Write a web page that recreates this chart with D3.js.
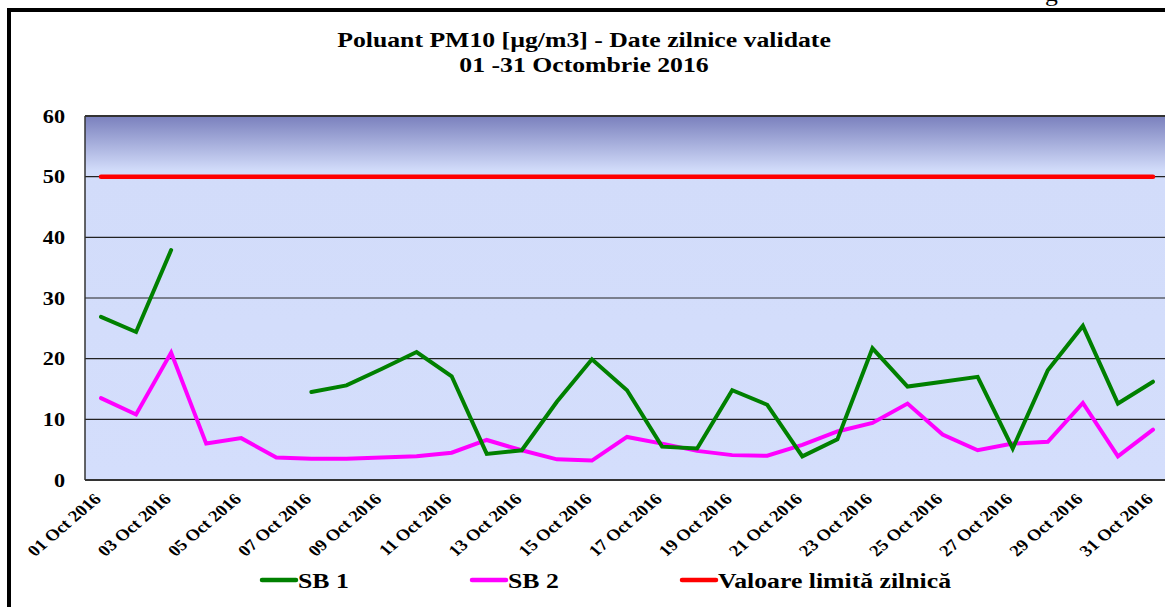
<!DOCTYPE html>
<html>
<head>
<meta charset="utf-8">
<script src="https://cdn.jsdelivr.net/npm/d3@7"></script>
<style>
  html, body { margin: 0; padding: 0; background: #fff; }
  svg { display: block; }
  text { font-family: "Liberation Serif", "Times New Roman", serif; font-weight: bold; fill: #000; }
</style>
</head>
<body>
<div id="container"></div>
<script>
// data
var days = ["01", "02", "03", "04", "05", "06", "07", "08", "09", "10",
            "11", "12", "13", "14", "15", "16", "17", "18", "19", "20",
            "21", "22", "23", "24", "25", "26", "27", "28", "29", "30", "31"];

var sb1 = [26.9, 24.4, 37.9, null, null, null, 14.5, 15.6, 18.3, 21.1,
           17.1, 4.3, 4.9, 12.9, 19.9, 14.8, 5.5, 5.2, 14.8, 12.4,
           3.9, 6.7, 21.7, 15.4, 16.2, 17.0, 5.2, 18.1, 25.4, 12.6, 16.2];

var sb2 = [13.5, 10.8, 21.0, 6.0, 6.9, 3.7, 3.5, 3.5, 3.7, 3.9,
           4.5, 6.6, 4.9, 3.4, 3.2, 7.1, 6.0, 4.8, 4.1, 4.0,
           5.8, 8.0, 9.4, 12.6, 7.5, 4.9, 6.0, 6.3, 12.7, 3.9, 8.3];

var limit = days.map(function() { return 50; });

var yTicks = [0, 10, 20, 30, 40, 50, 60];
var titleLines = ["Poluant PM10 [µg/m3] - Date zilnice validate", "01 -31 Octombrie 2016"];
var legendItems = [
  { name: "SB 1", color: "#008000" },
  { name: "SB 2", color: "#ff00ff" },
  { name: "Valoare limită zilnică", color: "#ff0000" }
];

var w = 1165,
    h = 607;

// the picture looks stretched sideways, so text is widened a bit
var sx = 1.17;

var svg = d3.select("div#container")
  .append("svg")
  .attr("width", w)
  .attr("height", h);

var x = d3.scalePoint()
  .domain(days)
  .range([101, 1153]);

var step = x.step();

var y = d3.scaleLinear()
  .domain([0, 60])
  .range([480, 116]);

// plot background gradient
var defs = svg.append("defs");
var grad = defs.append("linearGradient")
  .attr("id", "bg")
  .attr("x1", 0).attr("y1", 0)
  .attr("x2", 0).attr("y2", 1);
grad.append("stop").attr("offset", "0%").attr("stop-color", "#7a80bd");
grad.append("stop").attr("offset", "15%").attr("stop-color", "#d2dcfa");
grad.append("stop").attr("offset", "100%").attr("stop-color", "#d4defc");

var plotLeft = 85;
var plotRight = x(days[days.length - 1]) + step / 2;

svg.append("rect")
  .attr("x", plotLeft)
  .attr("y", y(60))
  .attr("width", plotRight - plotLeft)
  .attr("height", y(0) - y(60))
  .attr("fill", "url(#bg)");

// gridlines
svg.append("g")
  .selectAll("line")
  .data(yTicks)
  .enter().append("line")
  .attr("x1", plotLeft)
  .attr("x2", plotRight)
  .attr("y1", function(d) { return y(d); })
  .attr("y2", function(d) { return y(d); })
  .attr("stroke", function(d) { return (d === 0 || d === 60) ? "#333" : "#222"; })
  .attr("stroke-width", function(d) { return (d === 0 || d === 60) ? 2 : 1.2; });

// left axis line
svg.append("line")
  .attr("x1", plotLeft).attr("x2", plotLeft)
  .attr("y1", y(60)).attr("y2", y(0))
  .attr("stroke", "#333")
  .attr("stroke-width", 1.5);

// y labels
svg.append("g")
  .selectAll("text")
  .data(yTicks)
  .enter().append("text")
  .attr("transform", function(d) { return "translate(65," + y(d) + ") scale(" + sx + ",1)"; })
  .attr("dy", "0.35em")
  .attr("text-anchor", "end")
  .style("font-size", "19px")
  .text(function(d) { return d; });

// x labels, every second day
var labelDays = days.filter(function(d, i) { return i % 2 === 0; });
svg.append("g")
  .selectAll("text")
  .data(labelDays)
  .enter().append("text")
  .attr("transform", function(d) {
    return "translate(" + (x(d) + 1) + ",500) scale(" + sx + ",1) rotate(-45)";
  })
  .attr("text-anchor", "end")
  .style("font-size", "16px")
  .text(function(d) { return d + " Oct 2016"; });

// series lines
var line = d3.line()
  .defined(function(d) { return d != null; })
  .x(function(d, i) { return x(days[i]); })
  .y(function(d) { return y(d); });

var series = [
  { values: limit, color: "#ff0000", width: 4.5 },
  { values: sb2, color: "#ff00ff", width: 4 },
  { values: sb1, color: "#008000", width: 4 }
];

svg.append("g")
  .selectAll("path")
  .data(series)
  .enter().append("path")
  .attr("d", function(d) { return line(d.values); })
  .attr("fill", "none")
  .attr("stroke", function(d) { return d.color; })
  .attr("stroke-width", function(d) { return d.width; })
  .attr("stroke-linecap", "round")
  .attr("stroke-linejoin", "miter");

// title
svg.append("g")
  .selectAll("text")
  .data(titleLines)
  .enter().append("text")
  .attr("transform", function(d, i) { return "translate(584," + (46.5 + i * 25) + ") scale(" + sx + ",1)"; })
  .attr("text-anchor", "middle")
  .style("font-size", "22px")
  .text(function(d) { return d; });

// legend
var legendX = [262, 472, 682];
var legend = svg.append("g")
  .selectAll("g")
  .data(legendItems)
  .enter().append("g")
  .attr("transform", function(d, i) { return "translate(" + legendX[i] + ",580)"; });

legend.append("line")
  .attr("x1", 0).attr("x2", 34)
  .attr("y1", 0).attr("y2", 0)
  .attr("stroke", function(d) { return d.color; })
  .attr("stroke-width", 4.5)
  .attr("stroke-linecap", "round");

legend.append("text")
  .attr("transform", "translate(36,7.5) scale(" + sx + ",1)")
  .style("font-size", "22px")
  .text(function(d) { return d.name; });

// outer frame, cut off at the right and bottom
svg.append("rect")
  .attr("x", 9)
  .attr("y", 10)
  .attr("width", 1300)
  .attr("height", 800)
  .attr("fill", "none")
  .attr("stroke", "#000")
  .attr("stroke-width", 4);

// bit of a heading above the frame, mostly outside the picture
svg.append("text")
  .attr("transform", "translate(1045,1) scale(" + sx + ",1)")
  .style("font-size", "22px")
  .style("font-weight", "normal")
  .text("g");
</script>
</body>
</html>
